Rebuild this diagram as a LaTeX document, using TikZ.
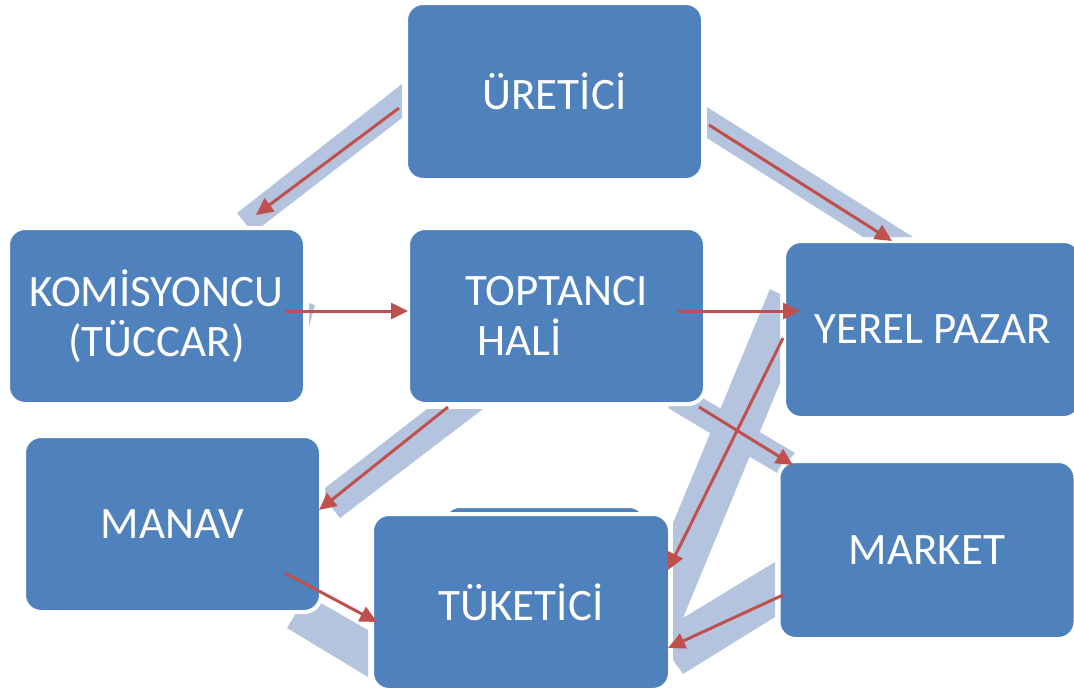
\documentclass[tikz,border=0pt]{standalone}
\usepackage{fontspec}
\setmainfont{Carlito}
\usetikzlibrary{arrows.meta}
\definecolor{boxblue}{HTML}{4F81BD}
\definecolor{bandblue}{HTML}{B4C4DE}
\definecolor{arrowred}{HTML}{C0504D}
\begin{document}
\begin{tikzpicture}[x=1pt,y=-1pt,
  box/.style={rectangle, rounded corners=17pt, fill=boxblue, draw=white, line width=4pt,
    inner sep=0pt, minimum width=297pt, minimum height=176pt, text=white,
    font=\fontsize{45}{50}\selectfont, align=center},
  band/.style={fill=bandblue, draw=none},
  flow/.style={draw=arrowred, line width=3pt, -{Triangle[length=17pt,width=16pt]}}]
\useasboundingbox (0,0) rectangle (1074,691);
% light connector bands
\fill[band] (402,84) -- (402,118) -- (253,233) -- (237,213) -- cycle;
\fill[band] (707,107) -- (707,138) -- (863,237) -- (913,237) -- cycle;
\fill[band] (309,303) -- (315,305) -- (309,327) -- cycle;
\fill[band] (770,289) -- (780,294) -- (780,383) -- (683,618) -- (775,562) -- (775,617)
  -- (683,674) -- (673,660) -- (673,523) -- cycle;
\fill[band] (668,408) -- (681,385) -- (795,453) -- (777,473) -- cycle;
\fill[band] (427,409) -- (483,409) -- (340,518) -- (325,499) -- (325,488) -- cycle;
\fill[band] (307,595) -- (287,628) -- (368,677) -- (368,630) -- cycle;
% boxes
\node[box, minimum width=203pt, minimum height=96pt] (tukback) at (544.5,554) {};
\node[box, minimum height=177pt] (uretici) at (554.5,91.5) {ÜRETİCİ};
\node[box] (komis) at (156.5,316) {KOMİSYONCU\\(TÜCCAR)};
\node[box, align=left] (toptanci) at (556.5,316) {TOPTANCI\\\hspace*{12pt}HALİ};
\node[box, minimum height=177pt] (yerel) at (932.5,329.5) {YEREL PAZAR};
\node[box] (manav) at (172.5,524) {MANAV};
\node[box, minimum width=298pt] (tuketici) at (521,602) {TÜKETİCİ};
\node[box, minimum height=178pt] (market) at (927,550) {MARKET};
% arrow end points
\coordinate (a1s) at (399,108); \coordinate (a1e) at (256,215);
\coordinate (a2s) at (709,125); \coordinate (a2e) at (892,241);
\coordinate (a3s) at (285,311); \coordinate (a3e) at (408,311);
\coordinate (a4s) at (677,311); \coordinate (a4e) at (800,311);
\coordinate (a5s) at (783,338); \coordinate (a5e) at (668,570);
\coordinate (a6s) at (699,407); \coordinate (a6e) at (793,465);
\coordinate (a7s) at (448,407); \coordinate (a7e) at (319,510);
\coordinate (a8s) at (285,573); \coordinate (a8e) at (377,622);
\coordinate (a9s) at (783,595); \coordinate (a9e) at (668,648);
% arrows
\draw[flow] (a1s) -- (a1e);
\draw[flow] (a2s) -- (a2e);
\draw[flow] (a3s) -- (a3e);
\draw[flow] (a4s) -- (a4e);
\draw[flow] (a5s) -- (a5e);
\draw[flow] (a6s) -- (a6e);
\draw[flow] (a7s) -- (a7e);
\draw[flow] (a8s) -- (a8e);
\draw[flow] (a9s) -- (a9e);
\end{tikzpicture}
\end{document}
